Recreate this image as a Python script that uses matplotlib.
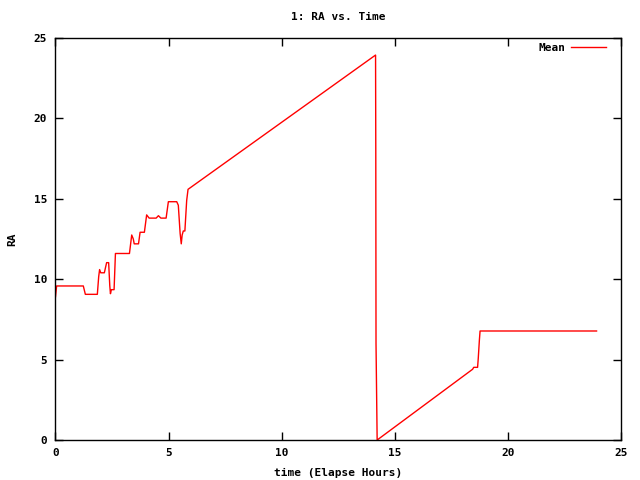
import matplotlib
matplotlib.use('Agg')
from matplotlib import pyplot as plt

# elapsed hours and mean RA
hours = [0.0, 0.05, 1.23, 1.32, 1.85, 1.91, 1.95, 2.0, 2.16, 2.26, 2.35, 2.40,
         2.43, 2.47, 2.59, 2.65, 3.27, 3.37, 3.44, 3.48, 3.67, 3.74, 3.93,
         4.03, 4.14, 4.45, 4.55, 4.66, 4.89, 4.99, 5.36, 5.43, 5.51, 5.56,
         5.60, 5.65, 5.72, 5.80, 5.86, 14.15, 14.16, 14.17, 14.22, 18.44,
         18.49, 18.66, 18.69, 18.74, 18.77, 23.92]
ra = [8.91, 9.58, 9.58, 9.06, 9.06, 10.16, 10.6, 10.4, 10.4, 11.03, 11.03, 9.6,
      9.1, 9.35, 9.35, 11.6, 11.6, 12.75, 12.5, 12.2, 12.2, 12.92, 12.92,
      14.0, 13.8, 13.8, 13.95, 13.8, 13.8, 14.82, 14.82, 14.6, 12.85, 12.2,
      12.75, 13.0, 13.0, 14.9, 15.59, 23.94, 18.0, 6.0, 0.0, 4.4,
      4.52, 4.52, 5.08, 6.22, 6.78, 6.78]

plt.rcParams['font.family'] = 'DejaVu Sans Mono'
plt.rcParams['font.weight'] = 'bold'
plt.rcParams['font.size'] = 8

fig = plt.figure(figsize=(6.4, 4.8), dpi=100)
ax = fig.add_axes([0.0867, 0.0833, 0.8836, 0.8375])

ax.plot(hours, ra, color='red', linewidth=1, label='Mean')

ax.set_xlim(0, 25)
ax.set_ylim(0, 25)
ax.set_xticks([0, 5, 10, 15, 20, 25])
ax.set_yticks([0, 5, 10, 15, 20, 25])
ax.tick_params(direction='in', length=6, width=1, top=True, right=True,
               labelsize=8, pad=6)
for s in ax.spines.values():
    s.set_linewidth(1)

ax.set_xlabel('time (Elapse Hours)', fontsize=8, fontweight='bold', labelpad=7)
ax.set_ylabel('RA', fontsize=8, fontweight='bold', labelpad=12)
ax.set_title('1: RA vs. Time', fontsize=8, fontweight='bold', pad=13)

leg = ax.legend(loc='upper right', frameon=False, markerfirst=False,
                handlelength=3.2, handletextpad=0.5, fontsize=8,
                borderaxespad=0, bbox_to_anchor=(0.954, 0.919),
                bbox_transform=fig.transFigure)

fig.savefig('out.png', dpi=100)
